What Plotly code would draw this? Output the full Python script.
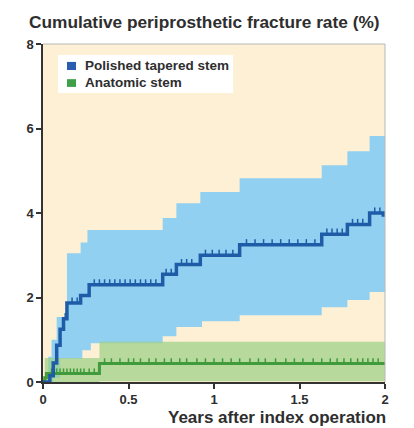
import numpy as np
import plotly.graph_objects as go

# ---- data ----
# Polished tapered stem: cumulative fracture rate (%)
pts_t = [0, 0.04, 0.06, 0.08, 0.10, 0.12, 0.14, 0.22, 0.27, 0.70, 0.78, 0.92, 1.15, 1.63, 1.78, 1.91, 1.99, 2.0]
pts_y = [0, 0.15, 0.45, 0.87, 1.25, 1.5, 1.87, 2.05, 2.3, 2.55, 2.78, 3.0, 3.25, 3.5, 3.73, 4.0, 3.95, 3.95]
pts_up_t = [0.03, 0.05, 0.08, 0.14, 0.22, 0.26, 0.70, 0.78, 0.92, 1.15, 1.63, 1.78, 1.91, 2.0]
pts_up_y = [0.6, 1.0, 1.54, 3.05, 3.3, 3.6, 3.88, 4.23, 4.5, 4.82, 5.13, 5.46, 5.82, 5.82]
pts_lo_t = [0.03, 0.06, 0.10, 0.23, 0.28, 0.70, 0.78, 0.93, 1.15, 1.63, 1.78, 1.91, 2.0]
pts_lo_y = [0.0, 0.1, 0.55, 0.75, 0.92, 1.08, 1.3, 1.44, 1.58, 1.77, 1.94, 2.13, 2.13]
pts_censor = [0.13, 0.17, 0.2, 0.3, 0.33, 0.36, 0.39, 0.42, 0.45, 0.48, 0.51, 0.54, 0.57,
              0.6, 0.63, 0.66, 0.72, 0.75, 0.81, 0.84, 0.87, 0.95, 0.99, 1.03, 1.07, 1.11,
              1.19, 1.24, 1.29, 1.34, 1.39, 1.44, 1.49, 1.54, 1.59, 1.66, 1.69, 1.72,
              1.75, 1.81, 1.84, 1.87, 1.94, 1.97]

# Anatomic stem
ana_t = [0, 0.01, 0.02, 0.33, 2.0]
ana_y = [0, 0.1, 0.2, 0.44, 0.44]
ana_up_t = [0.01, 0.33, 2.0]
ana_up_y = [0.57, 0.95, 0.95]
ana_lo_t = [0.01, 0.33, 2.0]
ana_lo_y = [0.0, 0.02, 0.02]
ana_censor = [0.05, 0.08, 0.1, 0.12, 0.14, 0.16, 0.18, 0.2, 0.22, 0.24, 0.27, 0.3,
              0.36, 0.4, 0.45, 0.5, 0.53, 0.57, 0.62, 0.66, 0.71, 0.75, 0.8, 0.84,
              0.9, 0.95, 1.0, 1.05, 1.1, 1.15, 1.21, 1.26, 1.3, 1.36, 1.42, 1.47,
              1.52, 1.58, 1.63, 1.68, 1.72, 1.76, 1.8, 1.84, 1.87, 1.9, 1.93, 1.96]

series_names = ["Polished tapered stem", "Anatomic stem"]
x_ticks = [0, 0.5, 1, 1.5, 2]
x_tick_text = ["0", "0.5", "1", "1.5", "2"]
y_ticks = [0, 2, 4, 6, 8]

BLUE_LINE = "#1f5ca8"
BLUE_KEY = "#2a5db0"
BLUE_BAND = "#92d0f1"
GREEN_LINE = "#3f9b3c"
GREEN_KEY = "#40a048"
GREEN_BAND = "rgba(155,208,135,0.72)"
BG = "#fdf0d4"
TXT = "#2e2e2e"
FONT = "Liberation Sans, Arial, sans-serif"


def step_at(ts, ys, q):
    idx = np.searchsorted(np.asarray(ts), np.asarray(q), side="right") - 1
    return np.asarray(ys)[idx]


fig = go.Figure()

# blue confidence band
fig.add_trace(go.Scatter(x=pts_lo_t, y=pts_lo_y, mode="lines", line=dict(width=0, shape="hv"),
                         showlegend=False, hoverinfo="skip"))
fig.add_trace(go.Scatter(x=pts_up_t, y=pts_up_y, mode="lines", line=dict(width=0, shape="hv"),
                         fill="tonexty", fillcolor=BLUE_BAND, showlegend=False, hoverinfo="skip"))
# green confidence band
fig.add_trace(go.Scatter(x=ana_lo_t, y=ana_lo_y, mode="lines", line=dict(width=0, shape="hv"),
                         showlegend=False, hoverinfo="skip"))
fig.add_trace(go.Scatter(x=ana_up_t, y=ana_up_y, mode="lines", line=dict(width=0, shape="hv"),
                         fill="tonexty", fillcolor=GREEN_BAND, showlegend=False, hoverinfo="skip"))

# green curve + censor marks
fig.add_trace(go.Scatter(x=ana_t, y=ana_y, mode="lines", name=series_names[1],
                         line=dict(color=GREEN_LINE, width=3, shape="hv"), showlegend=False))
fig.add_trace(go.Scatter(x=ana_censor, y=step_at(ana_t, ana_y, ana_censor) + 0.055, mode="markers",
                         marker=dict(symbol="line-ns", size=4, line=dict(color=GREEN_LINE, width=1.5)),
                         showlegend=False))
# blue curve + censor marks
fig.add_trace(go.Scatter(x=pts_t, y=pts_y, mode="lines", name=series_names[0],
                         line=dict(color=BLUE_LINE, width=3.5, shape="hv"), showlegend=False))
fig.add_trace(go.Scatter(x=pts_censor, y=step_at(pts_t, pts_y, pts_censor) + 0.065, mode="markers",
                         marker=dict(symbol="line-ns", size=4, line=dict(color=BLUE_LINE, width=1.5)),
                         showlegend=False))

# page has an 8px body margin -> figure is 8px smaller and offsets are compensated
fig.update_layout(
    width=406, height=420,
    margin=dict(l=35, r=29, t=36, b=46, autoexpand=False),
    paper_bgcolor="white",
    plot_bgcolor=BG,
    font=dict(family=FONT, color=TXT),
    showlegend=False,
)

fig.update_xaxes(range=[0, 2], tickvals=x_ticks, ticktext=["<b>%s</b>" % t for t in x_tick_text],
                 showgrid=False, zeroline=False, showline=True, linecolor="#333", linewidth=1.5,
                 ticks="outside", ticklen=5, tickwidth=1.5, tickcolor="#333", automargin=False,
                 tickfont=dict(size=13, color=TXT, family=FONT))
fig.update_yaxes(range=[0, 8], tickvals=y_ticks, ticktext=["<b>%d</b>" % t for t in y_ticks],
                 showgrid=False, zeroline=False, showline=True, linecolor="#333", linewidth=1.5,
                 ticks="outside", ticklen=5, tickwidth=1.5, tickcolor="#333", automargin=False,
                 tickfont=dict(size=13, color=TXT, family=FONT))

# legend: white box, square keys and labels
fig.add_shape(type="rect", xref="paper", yref="paper", x0=0.044, x1=0.556, y0=0.855, y1=0.9675,
              line=dict(width=0), fillcolor="white", layer="below")
fig.add_shape(type="rect", xref="paper", yref="paper", x0=0.0702, x1=0.0965, y0=0.923, y1=0.947,
              line=dict(width=0), fillcolor=BLUE_KEY, layer="above")
fig.add_shape(type="rect", xref="paper", yref="paper", x0=0.0702, x1=0.0965, y0=0.873, y1=0.896,
              line=dict(width=0), fillcolor=GREEN_KEY, layer="above")
fig.add_annotation(text="<b>%s</b>" % series_names[0], xref="paper", yref="paper",
                   x=0.117, y=0.935, xanchor="left", yanchor="middle", showarrow=False,
                   font=dict(size=13.5, color=TXT, family=FONT))
fig.add_annotation(text="<b>%s</b>" % series_names[1], xref="paper", yref="paper",
                   x=0.117, y=0.885, xanchor="left", yanchor="middle", showarrow=False,
                   font=dict(size=13.5, color=TXT, family=FONT))

# thin grey frame on top/right
fig.add_shape(type="line", xref="paper", yref="paper", x0=0, x1=1, y0=1, y1=1,
              line=dict(color="#b8b8b8", width=1), layer="above")
fig.add_shape(type="line", xref="paper", yref="paper", x0=1, x1=1, y0=0, y1=1,
              line=dict(color="#b8b8b8", width=1), layer="above")

# chart title (top-left, above the y axis)
fig.add_annotation(text="<b>Cumulative periprosthetic fracture rate (%)</b>", xref="paper", yref="paper",
                   x=-0.047, y=1.064, xanchor="left", yanchor="middle", showarrow=False,
                   font=dict(size=17.3, color=TXT, family=FONT))
# x-axis title
fig.add_annotation(text="<b>Years after index operation</b>", xref="paper", yref="paper",
                   x=1.008, y=-0.104, xanchor="right", yanchor="middle", showarrow=False,
                   font=dict(size=17, color=TXT, family=FONT))

fig.write_html("out.html")
